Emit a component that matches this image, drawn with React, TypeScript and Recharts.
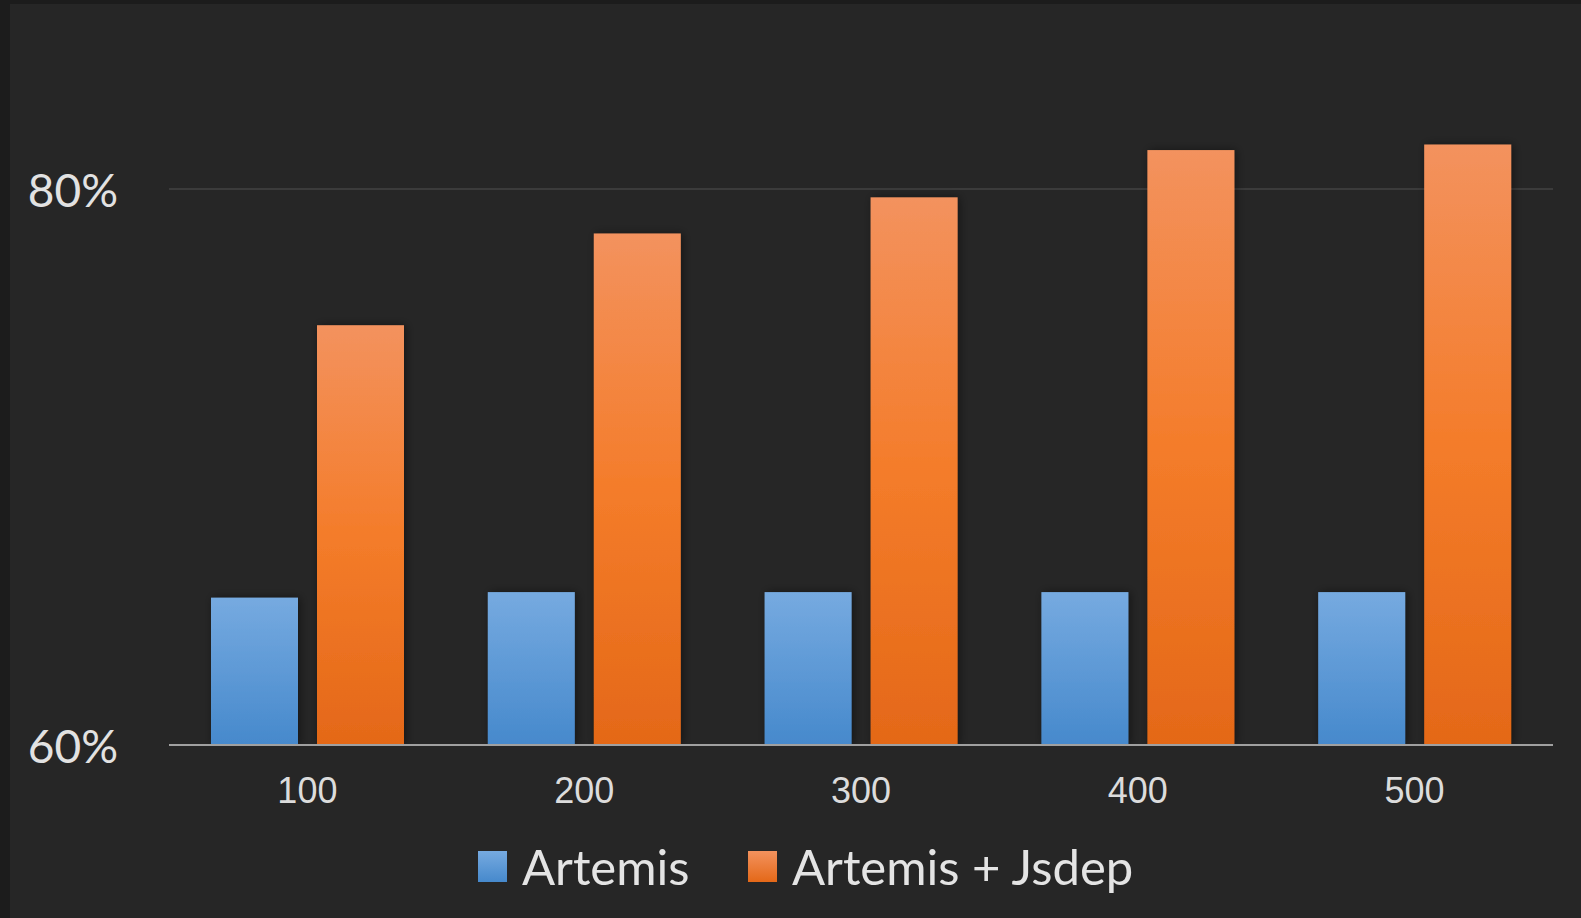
import React from 'react';
import { BarChart, Bar, XAxis, YAxis, CartesianGrid } from 'recharts';

const categories = ['100', '200', '300', '400', '500'];
const artemis = [65.3, 65.5, 65.5, 65.5, 65.5];
const artemisJsdep = [75.1, 78.4, 79.7, 81.4, 81.6];
const yTicks = [60, 80];

const data = categories.map((name, i) => ({
    name,
    artemis: artemis[i],
    jsdep: artemisJsdep[i],
}));

const YTick = (props: any) => {
    const { y, payload } = props;
    return (
        <text x={118} y={y} textAnchor="end" dominantBaseline="central" fill="#e2e2e2" fontSize={46} fontFamily="Lato">
            {payload.value}%
        </text>
    );
};

const XTick = (props: any) => {
    const { x, y, payload } = props;
    return (
        <text x={x} y={y + 37} textAnchor="middle" dominantBaseline="central" fill="#dcdcdc" fontSize={36} fontFamily="Liberation Sans">
            {payload.value}
        </text>
    );
};

const shadowBar = (gradId: string) => (props: any) => {
    const { x, y, width, height } = props;
    return <rect x={x} y={y} width={width} height={height} fill={`url(#${gradId})`} filter="url(#barShadow)" />;
};

const legendItems = [
    { label: 'Artemis', from: '#76aae0', to: '#4689cc', left: 478 },
    { label: 'Artemis + Jsdep', from: '#f3925e', to: '#e46818', left: 748 },
];

export default function App() {
    return (
        <div style={{ position: 'absolute', left: 0, top: 0, width: 1581, height: 918, background: '#1c1c1c', overflow: 'hidden' }}>
            <div style={{ position: 'absolute', left: 10, top: 4, right: 0, bottom: 0, background: '#262626' }} />
            <div style={{ position: 'absolute', left: 0, top: 0 }}>
                <BarChart
                    width={1581}
                    height={918}
                    data={data}
                    margin={{ top: 50, right: 28, left: 0, bottom: 0 }}
                    barSize={87}
                    barGap={19}
                >
                    <defs>
                        <linearGradient id="gradBlue" x1="0" y1="0" x2="0" y2="1">
                            <stop offset="0%" stopColor="#76aae0" />
                            <stop offset="100%" stopColor="#4689cc" />
                        </linearGradient>
                        <linearGradient id="gradOrange" x1="0" y1="0" x2="0" y2="1">
                            <stop offset="0%" stopColor="#f3925e" />
                            <stop offset="50%" stopColor="#f47c2a" />
                            <stop offset="100%" stopColor="#e46818" />
                        </linearGradient>
                        <filter id="barShadow" x="-20%" y="-20%" width="140%" height="140%">
                            <feDropShadow dx="2" dy="0" stdDeviation="5" floodColor="#000" floodOpacity="0.45" />
                        </filter>
                    </defs>
                    <CartesianGrid horizontal vertical={false} horizontalValues={yTicks} stroke="#3b3b3b" strokeWidth={2} />
                    <XAxis
                        dataKey="name"
                        height={173}
                        axisLine={{ stroke: '#a0a0a0', strokeWidth: 2 }}
                        tickLine={false}
                        tick={<XTick />}
                        interval={0}
                    />
                    <YAxis
                        width={169}
                        domain={[60, 85]}
                        ticks={yTicks}
                        axisLine={false}
                        tickLine={false}
                        tick={<YTick />}
                        allowDataOverflow
                    />
                    <Bar dataKey="artemis" name="Artemis" isAnimationActive={false} shape={shadowBar('gradBlue')} />
                    <Bar dataKey="jsdep" name="Artemis + Jsdep" isAnimationActive={false} shape={shadowBar('gradOrange')} />
                </BarChart>
            </div>
            {legendItems.map((item) => (
                <div
                    key={item.label}
                    style={{ position: 'absolute', left: item.left, top: 844, height: 44, display: 'flex', alignItems: 'center' }}
                >
                    <div style={{ width: 29, height: 31, marginRight: 15, background: `linear-gradient(${item.from}, ${item.to})` }} />
                    <span style={{ fontFamily: 'Lato', fontSize: 49, color: '#e4e4e4', whiteSpace: 'nowrap', lineHeight: 1 }}>
                        {item.label}
                    </span>
                </div>
            ))}
        </div>
    );
}
